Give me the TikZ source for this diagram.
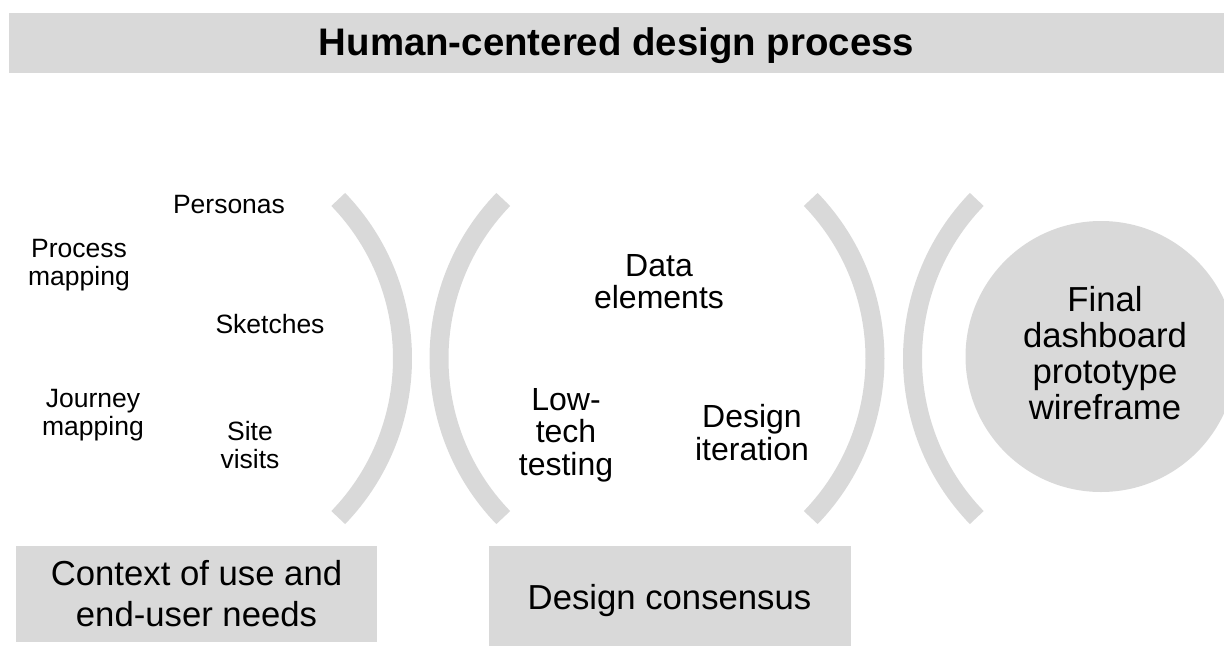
\documentclass[tikz,border=0pt]{standalone}
\usepackage{fontspec}
\setmainfont{Liberation Sans}
\definecolor{panel}{HTML}{D9D9D9}
\tikzset{
  smalllbl/.style={align=center, inner sep=0pt, font=\fontsize{26.5}{28}\selectfont},
  midlbl/.style={align=center, inner sep=0pt, font=\fontsize{32}{32.5}\selectfont},
  bigfont/.style={font=\fontsize{34.7}{41}\selectfont},
  band/.style={fill=panel, draw=none, inner sep=0pt, align=center},
  bracket/.style={draw=panel, line width=19pt},
}
\begin{document}
\begin{tikzpicture}[x=1pt,y=1pt]
\useasboundingbox (0,0) rectangle (1224,-646);
\clip (0,0) rectangle (1224,-646);

% heading band
\node[band, minimum width=1215pt, minimum height=60pt,
      font=\bfseries\fontsize{38.4}{40}\selectfont,
      text height=27.5pt, text depth=2.5pt] (title) at (616.5,-43)
  {Human-centered design process};

% phase 1: context of use
\node[smalllbl] (personas) at (229,-205)   {Personas};
\node[smalllbl] (procmap)  at (79,-265.5)  {Process\\mapping};
\node[smalllbl] (sketches) at (270,-324)   {Sketches};
\node[smalllbl] (journey)  at (93,-415)    {Journey\\mapping};
\node[smalllbl] (site)     at (250,-445.2) {Site\\visits};

% phase 2: design consensus
\node[midlbl] (data)    at (659,-281.5) {Data\\elements};
\node[midlbl] (lowtech) at (566,-435.3) {Low-\\tech\\testing};
\node[midlbl] (iter)    at (752,-432.5) {Design\\iteration};

% bracket arcs separating the phases
\draw[bracket] (173.5,-358.5)  ++(-44:229) arc[start angle=-44, end angle=44,  radius=229];
\draw[bracket] (668,-358.5)    ++(136:229) arc[start angle=136, end angle=224, radius=229];
\draw[bracket] (646,-358.5)    ++(-44:229) arc[start angle=-44, end angle=44,  radius=229];
\draw[bracket] (1141.5,-358.5) ++(136:229) arc[start angle=136, end angle=224, radius=229];

% outcome
\node[circle, fill=panel, inner sep=0pt, minimum size=271pt] (final) at (1101,-356.5) {};
\node[align=center, inner sep=0pt, font=\fontsize{34.7}{36}\selectfont] (finaltxt)
  at (1105,-353.3) {Final\\dashboard\\prototype\\wireframe};

% phase captions
\node[band, bigfont, minimum width=361pt, minimum height=96pt] (ctx) at (196.5,-594)
  {Context of use and\\end-user needs};
\node[band, bigfont, minimum width=362pt, minimum height=100pt,
      text height=26pt, text depth=0pt] (cons) at (669.5,-596)
  {Design consensus};
\end{tikzpicture}
\end{document}
